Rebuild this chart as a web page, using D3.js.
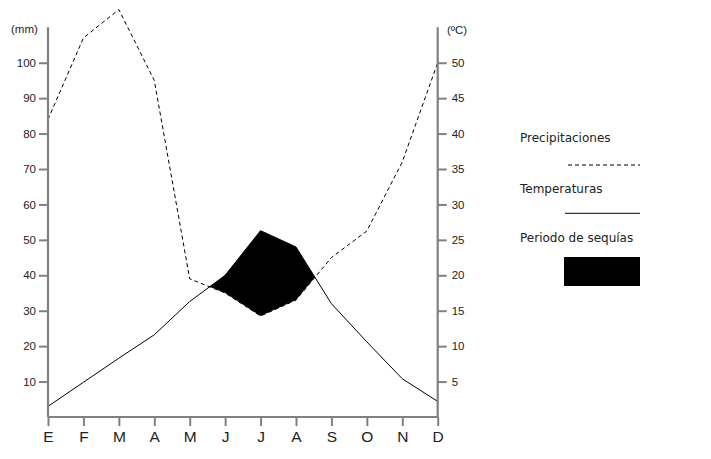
<!DOCTYPE html>
<html><head><meta charset="utf-8">
<script src="https://cdn.jsdelivr.net/npm/d3@7"></script>
<style>body{margin:0;background:#fff}svg{display:block}</style>
</head><body>
<script>
const months = ["E","F","M","A","M","J","J","A","S","O","N","D"];
const precip = [84, 107, 115, 95, 39, 35, 28.5, 33, 45, 52.5, 72, 100];
const temp = [1.5, 4.9, 8.3, 11.6, 16.3, 20, 26.3, 24, 16, 10.6, 5.4, 2.2];
const mmTicks = [10,20,30,40,50,60,70,80,90,100];
const cTicks = [5,10,15,20,25,30,35,40,45,50];
const legendLabels = ["Precipitaciones","Temperaturas","Periodo de sequías"];

(function(){
const W = 711, H = 459;
const svg = d3.select("body").append("svg").attr("width", W).attr("height", H);

const x = d3.scaleLinear().domain([0, 11]).range([48, 437.7]);
const yP = d3.scaleLinear().domain([0, 110]).range([417, 27.3]);
const yT = d3.scaleLinear().domain([0, 55]).range([417, 27.3]);

const axisCol = "#808080";
const txtCol = "#222";

// drought polygon: where 2*T exceeds P
const diff = precip.map((p, i) => p - 2 * temp[i]);
let upper = [], lower = [];
const segs = [];
for (let i = 0; i < 11; i++) {
  if (diff[i] >= 0 && diff[i+1] < 0) {
    const t = diff[i] / (diff[i] - diff[i+1]);
    const xi = i + t, v = precip[i] + t * (precip[i+1] - precip[i]);
    upper = [[xi, v]]; lower = [[xi, v]];
  } else if (diff[i] < 0 && diff[i+1] >= 0) {
    const t = diff[i] / (diff[i] - diff[i+1]);
    const xi = i + t, v = precip[i] + t * (precip[i+1] - precip[i]);
    upper.push([xi, v]);
    segs.push(upper.concat(lower.slice(1).reverse()));
    upper = []; lower = [];
  }
  if (diff[i+1] < 0) { upper.push([i+1, 2 * temp[i+1]]); lower.push([i+1, precip[i+1]]); }
}

// lines
svg.append("path").datum(precip)
  .attr("d", d3.line().x((v, i) => x(i)).y(v => yP(v)))
  .attr("fill", "none").attr("stroke", "#000").attr("stroke-width", 1)
  .attr("stroke-dasharray", "4,3");
svg.append("path").datum(temp)
  .attr("d", d3.line().x((v, i) => x(i)).y(v => yT(v)))
  .attr("fill", "none").attr("stroke", "#000").attr("stroke-width", 1);

svg.selectAll("path.dry").data(segs).enter().append("path")
  .attr("class", "dry")
  .attr("d", s => d3.line().x(p => x(p[0])).y(p => yP(p[1]))(s) + "Z")
  .attr("fill", "#000");

// axes
const left = svg.append("g").attr("transform", "translate(48,0)")
  .call(d3.axisLeft(yP).tickValues(mmTicks).tickSize(9).tickPadding(3));
const right = svg.append("g").attr("transform", "translate(437.7,0)")
  .call(d3.axisRight(yT).tickValues(cTicks).tickSize(9).tickPadding(5));
const bottom = svg.append("g").attr("transform", "translate(0,417)")
  .call(d3.axisBottom(x).tickValues(d3.range(12)).tickFormat(i => months[i]).tickSize(9).tickPadding(5));

[left, right, bottom].forEach(g => {
  g.select(".domain").attr("stroke", axisCol).attr("stroke-width", 2.2);
  g.selectAll(".tick line").attr("stroke", axisCol).attr("stroke-width", 2);
  g.selectAll("text").attr("fill", txtCol).attr("font-family", "Liberation Sans, Arial, sans-serif");
});
left.selectAll("text").attr("font-size", 11.5);
right.selectAll("text").attr("font-size", 11.5);
bottom.selectAll("text").attr("font-size", 15.5);
left.select(".domain").attr("d", "M0,417V27.3");
right.select(".domain").attr("d", "M0,417V27.3");
bottom.select(".domain").attr("d", "M48,0H437.7");

svg.append("text").attr("x", 11).attr("y", 33).text("(mm)")
  .attr("font-family", "Liberation Sans, Arial, sans-serif").attr("font-size", 11.5).attr("fill", txtCol);
svg.append("text").attr("x", 447).attr("y", 34).text("(ºC)")
  .attr("font-family", "Liberation Sans, Arial, sans-serif").attr("font-size", 11.5).attr("fill", txtCol);

// legend
const lg = svg.append("g").attr("font-family", "DejaVu Sans, Verdana, sans-serif").attr("font-size", 12).attr("fill", txtCol);
const ly = [141.5, 192.5, 242];
legendLabels.forEach((t, i) => lg.append("text").attr("x", 520).attr("y", ly[i]).text(t));
lg.append("line").attr("x1", 568).attr("x2", 640).attr("y1", 165).attr("y2", 165)
  .attr("stroke", "#000").attr("stroke-dasharray", "4,3");
lg.append("line").attr("x1", 565).attr("x2", 640).attr("y1", 213.3).attr("y2", 213.3)
  .attr("stroke", "#000");
lg.append("rect").attr("x", 564).attr("y", 257).attr("width", 76).attr("height", 29).attr("fill", "#000");
})();
</script>
</body></html>
